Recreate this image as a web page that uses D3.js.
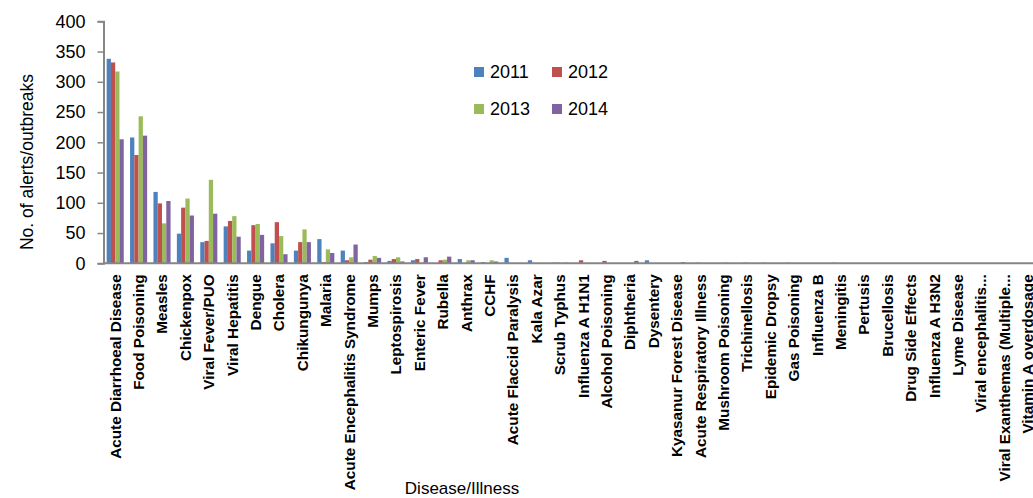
<!DOCTYPE html>
<html>
<head>
<meta charset="utf-8">
<script src="https://cdn.jsdelivr.net/npm/d3@7"></script>
<style>
  body { margin: 0; background: #fff; }
  svg { display: block; font-family: "Liberation Sans", Arial, sans-serif; }
</style>
</head>
<body>
<div id="chart"></div>
<script>
// Chart data
var diseases = ["Acute Diarrhoeal Disease", "Food Poisoning", "Measles", "Chickenpox",
  "Viral Fever/PUO", "Viral Hepatitis", "Dengue", "Cholera", "Chikungunya", "Malaria",
  "Acute Encephalitis Syndrome", "Mumps", "Leptospirosis", "Enteric Fever", "Rubella",
  "Anthrax", "CCHF", "Acute Flaccid Paralysis", "Kala Azar", "Scrub Typhus",
  "Influenza A H1N1", "Alcohol Poisoning", "Diphtheria", "Dysentery",
  "Kyasanur Forest Disease", "Acute Respiratory Illness", "Mushroom Poisoning",
  "Trichinellosis", "Epidemic Dropsy", "Gas Poisoning", "Influenza B", "Meningitis",
  "Pertusis", "Brucellosis", "Drug Side Effects", "Influenza A H3N2", "Lyme Disease",
  "Viral encephalitis...", "Viral Exanthemas (Multiple...", "Vitamin A overdosage"];

var years = ["2011", "2012", "2013", "2014"];

var v2011 = [338, 208, 118, 49, 35, 61, 21, 33, 21, 40, 21, 2, 4, 5, 0, 7, 2, 9, 5, 1,
  0, 0, 0, 5, 0, 0, 0, 0, 1, 1, 0, 1, 0, 0, 0, 0, 0, 0, 0, 0];
var v2012 = [332, 179, 99, 92, 37, 70, 63, 68, 35, 2, 5, 6, 7, 7, 5, 0, 0, 0, 0, 1,
  5, 4, 0, 0, 0, 1, 0, 1, 0, 0, 0, 0, 0, 0, 0, 0, 0, 0, 0, 0];
var v2013 = [317, 243, 66, 107, 138, 78, 65, 45, 56, 23, 10, 12, 10, 0, 6, 5, 5, 0, 0, 0,
  0, 0, 0, 0, 0, 0, 1, 0, 0, 0, 0, 0, 0, 0, 0, 0, 0, 0, 0, 0];
var v2014 = [205, 211, 103, 79, 82, 44, 47, 15, 35, 17, 31, 9, 3, 10, 11, 5, 3, 0, 0, 1,
  0, 0, 4, 0, 2, 0, 0, 0, 0, 0, 0, 0, 0, 0, 0, 0, 0, 0, 0, 0];

var yTicks = [0, 50, 100, 150, 200, 250, 300, 350, 400];
var colors = ["#4F81BD", "#C0504D", "#9BBB59", "#8064A2"];

var series = [v2011, v2012, v2013, v2014];

var svgWidth = 1033;
var svgHeight = 498;

var svg = d3.select("#chart")
  .append("svg")
  .attr("width", svgWidth)
  .attr("height", svgHeight);

// scales
var x0 = d3.scaleBand()
  .domain(diseases)
  .range([103.5, 1039.5])
  .paddingInner(0.27)
  .paddingOuter(0.135);

var x1 = d3.scaleBand()
  .domain(years)
  .range([0, x0.bandwidth()]);

var y = d3.scaleLinear()
  .domain([0, 400])
  .range([263.3, 21.3]);

// bars
var rows = diseases.map(function(d, i) {
  return { name: d, vals: years.map(function(yr, j) { return { year: yr, value: series[j][i] }; }) };
});

var groups = svg.append("g").selectAll("g")
  .data(rows)
  .enter()
  .append("g")
  .attr("transform", function(d) { return "translate(" + x0(d.name) + ",0)"; });

groups.selectAll("rect")
  .data(function(d) { return d.vals; })
  .enter()
  .append("rect")
  .attr("x", function(d) { return x1(d.year); })
  .attr("y", function(d) { return y(d.value); })
  .attr("width", x1.bandwidth())
  .attr("height", function(d) { return y(0) - y(d.value); })
  .attr("fill", function(d, i) { return colors[i]; });

// y axis
var yAxis = svg.append("g")
  .attr("transform", "translate(103.5,0)")
  .call(d3.axisLeft(y).tickValues(yTicks).tickSize(6).tickPadding(12));
yAxis.select(".domain").attr("stroke", "#868686").attr("stroke-width", 2);
yAxis.selectAll(".tick line").attr("stroke", "#868686").attr("stroke-width", 1.5);
yAxis.selectAll(".tick text")
  .attr("font-size", 18)
  .attr("font-family", "Liberation Sans, Arial, sans-serif")
  .attr("fill", "#000");

// x axis, category names turned upright
var xAxis = svg.append("g")
  .attr("transform", "translate(0," + y(0) + ")")
  .call(d3.axisBottom(x0).tickSize(0).tickPadding(0));
xAxis.select(".domain").attr("d", "M103.5,0H1033").attr("stroke", "#868686").attr("stroke-width", 2);
xAxis.selectAll(".tick text")
  .attr("transform", "rotate(-90)")
  .attr("text-anchor", "end")
  .attr("x", -11)
  .attr("y", 0)
  .attr("dy", "0.35em")
  .attr("font-size", 15.3)
  .attr("font-weight", "bold")
  .attr("font-family", "Liberation Sans, Arial, sans-serif")
  .attr("fill", "#000");

// axis titles
svg.append("text")
  .attr("transform", "translate(33,162) rotate(-90)")
  .attr("text-anchor", "middle")
  .attr("font-size", 17.5)
  .text("No. of alerts/outbreaks");

svg.append("text")
  .attr("x", 462)
  .attr("y", 494)
  .attr("text-anchor", "middle")
  .attr("font-size", 17)
  .text("Disease/Illness");

// legend
var legendPos = [[474, 72], [552, 72], [474, 109], [552, 109]];
var legend = svg.append("g").selectAll("g")
  .data(years)
  .enter()
  .append("g")
  .attr("transform", function(d, i) { return "translate(" + legendPos[i][0] + "," + legendPos[i][1] + ")"; });

legend.append("rect")
  .attr("x", 0)
  .attr("y", -5)
  .attr("width", 10)
  .attr("height", 10)
  .attr("fill", function(d, i) { return colors[i]; });

legend.append("text")
  .attr("x", 16)
  .attr("y", 0)
  .attr("dy", "0.36em")
  .attr("font-size", 18)
  .text(function(d) { return d; });
</script>
</body>
</html>
